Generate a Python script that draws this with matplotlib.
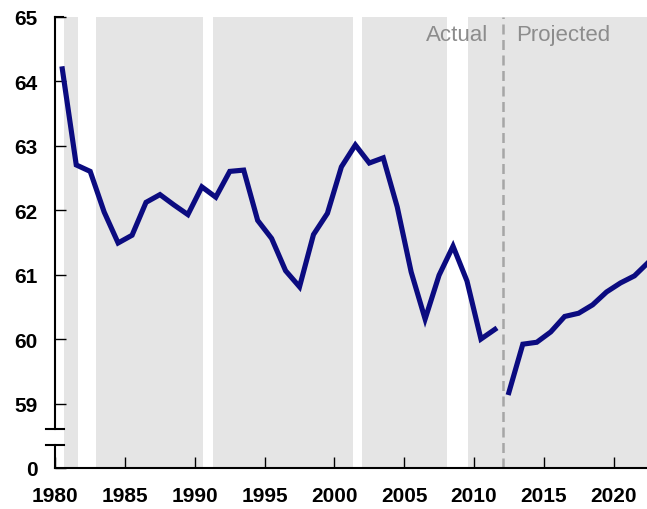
import matplotlib
matplotlib.use('Agg')
import matplotlib.pyplot as plt
import matplotlib.transforms as mtransforms
import numpy as np

plt.rcParams['font.family'] = ['Liberation Sans', 'DejaVu Sans']

# actual values, one per year (plotted at mid-year)
years_actual = list(range(1980, 2012))
vals_actual = [64.19, 62.70, 62.60, 61.97, 61.49, 61.61, 62.12, 62.24, 62.08, 61.93,
               62.36, 62.20, 62.60, 62.62, 61.84, 61.56, 61.06, 60.81, 61.62, 61.95,
               62.67, 63.01, 62.73, 62.81, 62.05, 61.04, 60.31, 60.99, 61.44, 60.90,
               60.00, 60.15]

# projected values
years_proj = list(range(2012, 2023))
vals_proj = [59.17, 59.92, 59.95, 60.11, 60.35, 60.40, 60.53, 60.73, 60.87, 60.98, 61.19]

# shaded periods (expansions)
shade_start = [1980.6, 1982.95, 1991.3, 2002.0, 2009.6]
shade_end = [1981.6, 1990.6, 2001.3, 2008.1, 2023.0]

yticks = [58, 59, 60, 61, 62, 63, 64, 65]
ytick_labels = ['0', '59', '60', '61', '62', '63', '64', '65']
xticks = list(range(1980, 2021, 5))

fig = plt.figure(figsize=(6.47, 5.10), dpi=100)
ax = fig.add_axes([0.0855, 0.0804, 0.9145, 0.885])

for s, e in zip(shade_start, shade_end):
    ax.axvspan(s, e, color='#e5e5e5', lw=0, zorder=0)

ax.axvline(2012.05, color='#a6a6a6', lw=1.8, dashes=(4, 2.2), zorder=1)

navy = '#0b0b80'
ax.plot(np.array(years_actual) + 0.5, vals_actual, color=navy, lw=3.7,
        solid_joinstyle='miter', zorder=3)
ax.plot(np.array(years_proj) + 0.5, vals_proj, color=navy, lw=3.7,
        solid_joinstyle='miter', zorder=3)

ax.text(2011.0, 64.72, 'Actual', ha='right', va='center', fontsize=16, color='#8c8c8c')
ax.text(2013.05, 64.72, 'Projected', ha='left', va='center', fontsize=16, color='#8c8c8c')

ax.set_xlim(1980, 2022.4)
ax.set_ylim(58, 65)

ax.set_yticks(yticks)
ax.set_yticklabels(ytick_labels)
ax.set_xticks(xticks)

for sp in ['top', 'right', 'left']:
    ax.spines[sp].set_visible(False)
ax.spines['bottom'].set_linewidth(1.5)

ax.tick_params(axis='both', direction='in', length=8, width=1, labelsize=15)
ax.tick_params(axis='y', pad=13)
ax.tick_params(axis='x', pad=13)
for lab in ax.get_xticklabels() + ax.get_yticklabels():
    lab.set_fontweight('bold')

# broken left spine
trans = mtransforms.blended_transform_factory(ax.transAxes, ax.transData)
br_low, br_high = 58.35, 58.60
ax.plot([0, 0], [58, br_low], color='black', lw=1.5, transform=trans, clip_on=False, zorder=5)
ax.plot([0, 0], [br_high, 65], color='black', lw=1.5, transform=trans, clip_on=False, zorder=5)
dx = 9 / (0.9145 * 647)
for yb in [br_low, br_high]:
    ax.plot([-dx, dx], [yb, yb], color='black', lw=1.5, transform=trans, clip_on=False, zorder=5)
ax.plot([0, 8 / (0.9145 * 647)], [65, 65], color='black', lw=1.5, transform=trans, clip_on=False, zorder=5)

fig.savefig('out.png', dpi=100)
